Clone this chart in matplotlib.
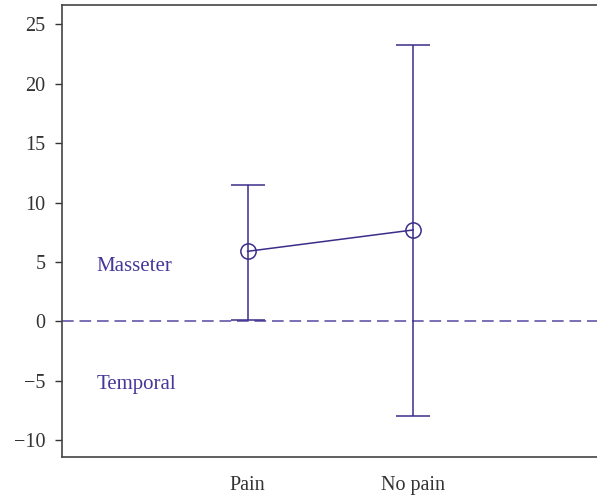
import matplotlib.pyplot as plt

# data
groups = ['Pain', 'No pain']
xpos = [1, 2]
means = [5.9, 7.7]
lower = [0.15, -8.0]
upper = [11.45, 23.25]

line_col = '#3b2d8a'
dash_col = '#6655aa'

plt.rcParams['font.family'] = ['Liberation Serif', 'DejaVu Serif']

fig = plt.figure(figsize=(5.97, 4.96), dpi=100)
ax = fig.add_axes([0.104, 0.079, 0.896, 0.910])

# zero reference line
ax.axhline(0, color=dash_col, linestyle=(0, (7, 3.5)), linewidth=1.2, zorder=1)

err_lo = [m - l for m, l in zip(means, lower)]
err_hi = [u - m for m, u in zip(means, upper)]
ax.errorbar(xpos, means, yerr=[err_lo, err_hi], color=line_col, linewidth=1.1,
            elinewidth=1.1, capsize=12, capthick=1.1, marker='o', markersize=11,
            markerfacecolor='none', markeredgecolor=line_col, markeredgewidth=1.1,
            zorder=3)

ax.text(0.09, 4.6, 'Masseter', color='#45389a', fontsize=15, va='center', ha='left')
ax.text(0.09, -5.35, 'Temporal', color='#45389a', fontsize=15, va='center', ha='left')

ax.set_xlim(-0.12, 3.11)
ax.set_ylim(-11.4, 26.6)
ax.set_yticks([-10, -5, 0, 5, 10, 15, 20, 25])
ax.set_yticklabels(['\u221210', '\u22125', '0', '5', '10', '15', '20', '25'])
ax.set_xticks(xpos)
ax.set_xticklabels(groups)

ax.tick_params(axis='y', length=5, width=1, pad=7, labelsize=14.5, colors='#333333')
ax.tick_params(axis='x', length=0, pad=14, labelsize=14.5, colors='#333333')
for side in ['left', 'bottom', 'top']:
    ax.spines[side].set_color('#444444')
    ax.spines[side].set_linewidth(1.2)
ax.spines['right'].set_visible(False)

fig.savefig('out.png', dpi=100)
